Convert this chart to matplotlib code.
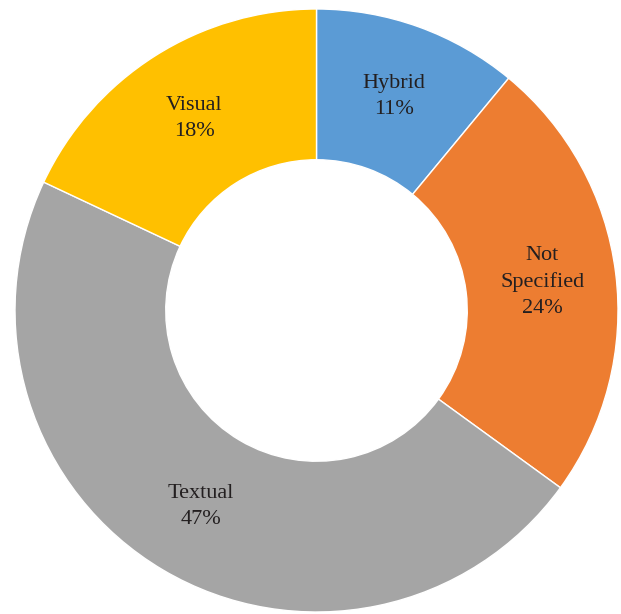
import numpy as np
import matplotlib.pyplot as plt

labels = ["Hybrid", "Not\nSpecified", "Textual", "Visual"]
shares = [11, 24, 47, 18]
colors = ["#5B9BD5", "#ED7D31", "#A5A5A5", "#FFC000"]

fig = plt.figure(figsize=(6.21, 6.14), dpi=100)
ax = fig.add_axes([15 / 621, 2 / 614, 603 / 621, 603 / 614])

ax.pie(shares, colors=colors, startangle=90, counterclock=False, radius=1.0,
       wedgeprops=dict(width=0.5, edgecolor="white", linewidth=1.0))

# category name + percentage in the middle of each ring segment
total = float(sum(shares))
angle = 90.0
for lab, val in zip(labels, shares):
    mid = angle - 360.0 * val / total / 2
    angle -= 360.0 * val / total
    r = 0.755
    x = r * np.cos(np.radians(mid))
    y = r * np.sin(np.radians(mid))
    ax.text(x, y, f"{lab}\n{val}%", ha="center", va="center",
            fontsize=16, family="Liberation Serif", color="#231F20", linespacing=1.5)

ax.set_xlim(-1, 1)
ax.set_ylim(-1, 1)
ax.set_aspect("equal")
ax.axis("off")
fig.savefig("out.png", dpi=100)
